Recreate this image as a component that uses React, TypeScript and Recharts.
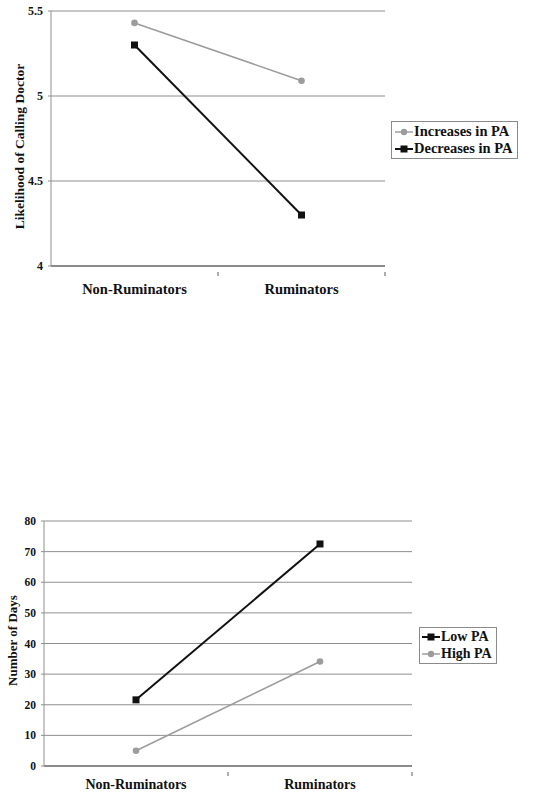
import React from 'react';
import { LineChart, Line, XAxis, YAxis, CartesianGrid, Legend } from 'recharts';

const categories = ['Non-Ruminators', 'Ruminators'];
const increasesInPA = [5.43, 5.09];
const decreasesInPA = [5.3, 4.3];
const likelihoodTicks = [4, 4.5, 5, 5.5];
const legendOrder1 = ['Increases in PA', 'Decreases in PA'];

const lowPA = [21.6, 72.5];
const highPA = [5.0, 34.1];
const daysTicks = [0, 10, 20, 30, 40, 50, 60, 70, 80];
const legendOrder2 = ['Low PA', 'High PA'];

const data1 = categories.map((c, i) => ({ category: c, inc: increasesInPA[i], dec: decreasesInPA[i] }));
const data2 = categories.map((c, i) => ({ category: c, low: lowPA[i], high: highPA[i] }));

const FONT = '"Liberation Serif", "Times New Roman", serif';
const BLACK = '#111111';
const GRAY = '#9c9c9c';
const GRID = '#8f8f8f';

const markerOf: Record<string, 'square' | 'circle'> = {
  'Increases in PA': 'circle',
  'Decreases in PA': 'square',
  'Low PA': 'square',
  'High PA': 'circle',
};

const SquareDot = (props: any) => {
  const { cx, cy } = props;
  if (cx == null || cy == null) return null;
  return <rect x={cx - 3.5} y={cy - 3.5} width={7} height={7} fill={BLACK} />;
};

const CircleDot = (props: any) => {
  const { cx, cy } = props;
  if (cx == null || cy == null) return null;
  return <circle cx={cx} cy={cy} r={3.3} fill={GRAY} />;
};

const makeXTick = (fontSize: number, gap: number) => (props: any) => {
  const { x, y, payload } = props;
  const half = payload && typeof payload.offset === 'number' ? payload.offset : 0;
  return (
    <g>
      {half > 0 && <line x1={x + half} y1={y - 12} x2={x + half} y2={y - 8} stroke="#777" strokeWidth={1.2} />}
      <text
        x={x}
        y={y - 12 + gap}
        textAnchor="middle"
        dy="0.71em"
        fontFamily={FONT}
        fontWeight="bold"
        fontSize={fontSize}
        fill="#111"
      >
        {payload.value}
      </text>
    </g>
  );
};

const makeLegend = (order: string[], fontSize: number, rowH: number, padL: number) => (props: any) => {
  const payload = [...(props.payload || [])].sort(
    (a: any, b: any) => order.indexOf(a.value) - order.indexOf(b.value)
  );
  return (
    <div
      style={{
        border: '1px solid #8a8a8a',
        background: '#fff',
        padding: '1px 4px 1px ' + padL + 'px',
        fontFamily: FONT,
        fontWeight: 'bold',
        fontSize,
        color: '#111',
        whiteSpace: 'nowrap',
        width: 'max-content',
      }}
    >
      {payload.map((p: any) => {
        const kind = markerOf[p.value];
        const col = kind === 'square' ? BLACK : GRAY;
        return (
          <div key={p.value} style={{ display: 'flex', alignItems: 'center', height: rowH }}>
            <svg width={18} height={10} style={{ marginRight: 1 }}>
              <line x1={0} y1={5} x2={18} y2={5} stroke={col} strokeWidth={kind === 'square' ? 2 : 1.5} />
              {kind === 'square' ? (
                <rect x={5.5} y={1.5} width={7} height={7} fill={BLACK} />
              ) : (
                <circle cx={9} cy={5} r={3.2} fill={GRAY} />
              )}
            </svg>
            <span>{p.value}</span>
          </div>
        );
      })}
    </div>
  );
};

const makeYLabel = (text: string, xOff: number, dy: number, fontSize: number) => (props: any) => {
  const vb = props.viewBox || {};
  const x = (vb.x || 0) + xOff;
  const y = (vb.y || 0) + (vb.height || 0) / 2 + dy;
  return (
    <text
      x={x}
      y={y}
      transform={`rotate(-90, ${x}, ${y})`}
      textAnchor="middle"
      dominantBaseline="central"
      fontFamily={FONT}
      fontWeight="bold"
      fontSize={fontSize}
      fill="#111"
    >
      {text}
    </text>
  );
};

export default function App() {
  return (
    <div style={{ position: 'absolute', left: 0, top: 0, width: 543, height: 792, background: '#fff', overflow: 'hidden' }}>
      <div style={{ position: 'absolute', left: 0, top: 0 }}>
        <LineChart width={543} height={300} data={data1} margin={{ top: 11, right: 158, bottom: 0, left: 0 }}>
          <CartesianGrid vertical={false} stroke={GRID} strokeWidth={1} />
          <XAxis
            dataKey="category"
            scale="band"
            height={34}
            tickLine={false}
            axisLine={{ stroke: '#777', strokeWidth: 1.5 }}
            tickMargin={12}
            tick={makeXTick(14.5, 12)}
          />
          <YAxis
            width={51}
            domain={[4, 5.5]}
            ticks={likelihoodTicks}
            tickFormatter={(v: number) => String(v)}
            tickSize={3}
            tickMargin={5}
            tickLine={{ stroke: GRID }}
            axisLine={{ stroke: GRID }}
            tick={{ fontFamily: FONT, fontWeight: 'bold', fontSize: 12, fill: '#111' }}
            label={{ content: makeYLabel('Likelihood of Calling Doctor', 19, 8, 13.5) }}
          />
          <YAxis yAxisId="border" orientation="right" width={0} tick={false} tickLine={false} axisLine={{ stroke: GRID }} />
          <Legend
            layout="vertical"
            align="center"
            verticalAlign="middle"
            wrapperStyle={{ left: 391, top: 121, width: 0, height: 0, overflow: 'visible' }}
            content={makeLegend(legendOrder1, 14.5, 17, 3)}
          />
          <Line
            name="Increases in PA"
            dataKey="inc"
            stroke={GRAY}
            strokeWidth={1.6}
            dot={<CircleDot />}
            activeDot={false}
            isAnimationActive={false}
          />
          <Line
            name="Decreases in PA"
            dataKey="dec"
            stroke={BLACK}
            strokeWidth={2}
            dot={<SquareDot />}
            activeDot={false}
            isAnimationActive={false}
          />
        </LineChart>
      </div>
      <div style={{ position: 'absolute', left: 0, top: 500 }}>
        <LineChart width={543} height={292} data={data2} margin={{ top: 21, right: 131, bottom: 0, left: 0 }}>
          <CartesianGrid vertical={false} stroke={GRID} strokeWidth={1} />
          <XAxis
            dataKey="category"
            scale="band"
            height={26}
            tickLine={false}
            axisLine={{ stroke: '#777', strokeWidth: 1.5 }}
            tickMargin={12}
            tick={makeXTick(14, 7)}
          />
          <YAxis
            width={44}
            domain={[0, 80]}
            ticks={daysTicks}
            tickSize={3}
            tickMargin={5}
            tickLine={{ stroke: GRID }}
            axisLine={{ stroke: GRID }}
            tick={{ fontFamily: FONT, fontWeight: 'bold', fontSize: 11.5, fill: '#111' }}
            label={{ content: makeYLabel('Number of Days', 12, -3, 13) }}
          />
          <YAxis yAxisId="border" orientation="right" width={0} tick={false} tickLine={false} axisLine={{ stroke: GRID }} />
          <Legend
            layout="vertical"
            align="center"
            verticalAlign="middle"
            wrapperStyle={{ left: 419, top: 127, width: 0, height: 0, overflow: 'visible' }}
            content={makeLegend(legendOrder2, 14, 16.5, 2)}
          />
          <Line
            name="Low PA"
            dataKey="low"
            stroke={BLACK}
            strokeWidth={2}
            dot={<SquareDot />}
            activeDot={false}
            isAnimationActive={false}
          />
          <Line
            name="High PA"
            dataKey="high"
            stroke={GRAY}
            strokeWidth={1.6}
            dot={<CircleDot />}
            activeDot={false}
            isAnimationActive={false}
          />
        </LineChart>
      </div>
    </div>
  );
}
